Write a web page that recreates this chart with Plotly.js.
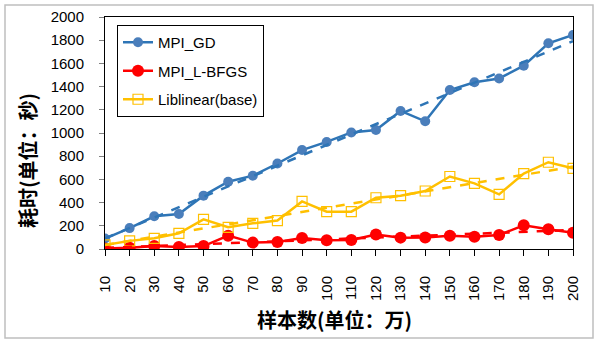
<!DOCTYPE html>
<html>
<head>
<meta charset="utf-8">
<script src="https://cdn.plot.ly/plotly-3.0.1.min.js"></script>
<style>html,body{margin:0;padding:0;background:#fff;}#chart{width:600px;height:344px;}</style>
</head>
<body>
<div id="chart"></div>
<script>
// Sample sizes (unit: 10k)
const samples = [10,20,30,40,50,60,70,80,90,100,110,120,130,140,150,160,170,180,190,200];
const tickLabels = samples.map(String);
// Time in seconds
const mpiGD = [90,180,282,302,460,580,632,737,853,923,1005,1026,1190,1101,1370,1437,1470,1580,1773,1845];
const mpiLBFGS = [5,10,25,18,25,115,55,60,95,75,78,125,98,100,115,105,120,205,170,140];
const liblinear = [35,70,92,135,256,187,221,245,410,322,322,442,460,500,625,566,471,650,748,695];

const seriesNames = ['MPI_GD','MPI_L-BFGS','Liblinear(base)'];
const lineColors = ['#2E75B6','#FF0000','#FFC000'];
const markerFill = ['#4A7EBB','#FF0000','rgba(0,0,0,0)'];

function linfit(xs, ys){
  const n = xs.length;
  let sx=0,sy=0,sxx=0,sxy=0;
  for(let i=0;i<n;i++){sx+=xs[i];sy+=ys[i];sxx+=xs[i]*xs[i];sxy+=xs[i]*ys[i];}
  const b=(n*sxy-sx*sy)/(n*sxx-sx*sx);
  const a=(sy-b*sx)/n;
  return xs.map(x=>a+b*x);
}

const all = [mpiGD, mpiLBFGS, liblinear];
const traces = [];
all.forEach((ys,i)=>{
  traces.push({
    x: samples, y: ys, type:'scatter', mode:'lines+markers', name: seriesNames[i],
    legendgroup: 'g'+i,
    line:{color: lineColors[i], width: 2.5},
    marker: i===2 ? {symbol:'square-open', size:10, color: lineColors[i], line:{width:1.2,color:lineColors[i]}}
                  : {symbol:'circle', size: i===1?12:10, color: markerFill[i], line:{width:0}}
  });
});
all.forEach((ys,i)=>{
  traces.push({
    x: samples, y: linfit(samples, ys), type:'scatter', mode:'lines', showlegend:false,
    legendgroup: 'g'+i, hoverinfo:'skip',
    line:{color: lineColors[i], width: 2.5, dash:'dash'}
  });
});

const L=105, R=27, T=17, B=95, W=600, H=344;
const pw=W-L-R, ph=H-T-B;
const px = v => (v-L)/pw;
const py = v => (H-B-v)/ph;

const layout = {
  width: W, height: H,
  margin:{l:L, r:R, t:T, b:B, pad:0},
  paper_bgcolor:'#fff', plot_bgcolor:'#fff',
  font:{family:'"Liberation Sans", Arial, sans-serif', size:15, color:'#000'},
  showlegend:true,
  legend:{
    x: px(117), y: py(25), xanchor:'left', yanchor:'top',
    bgcolor:'#fff', bordercolor:'#000', borderwidth:1,
    font:{size:15, color:'#000'}, itemwidth:30, tracegroupgap:6, traceorder:'grouped'
  },
  xaxis:{
    range:[10,200], tickvals: samples, ticktext: tickLabels, tickangle:-90,
    showgrid:false, zeroline:false, showline:true, linecolor:'#000', linewidth:1, mirror:true,
    ticks:'outside', ticklen:6, tickcolor:'#000', ticklabelstandoff:14,
    tickfont:{size:15, color:'#000'}
  },
  yaxis:{
    range:[0,2000], dtick:200, tick0:0,
    showgrid:false, zeroline:false, showline:true, linecolor:'#000', linewidth:1, mirror:true,
    ticks:'outside', ticklen:5, tickcolor:'#808080', ticklabelstandoff:12,
    tickfont:{size:15, color:'#000'}
  },
  annotations:[
    {text:'耗时(单位：秒)', xref:'paper', yref:'paper', x: px(27), y: py(161), showarrow:false,
     textangle:-90, xanchor:'center', yanchor:'middle',
     font:{family:'"Noto Sans CJK SC", sans-serif', size:20, color:'#000', weight:'bold'}},
    {text:'样本数(单位：万)', xref:'paper', yref:'paper', x: px(334), y: py(320), showarrow:false,
     xanchor:'center', yanchor:'middle',
     font:{family:'"Noto Sans CJK SC", sans-serif', size:20, color:'#000', weight:'bold'}}
  ],
  shapes:[
    {type:'rect', xref:'paper', yref:'paper', x0:px(5), x1:px(593), y0:py(5), y1:py(338),
     line:{color:'#BFBFBF', width:1.5}, layer:'below'}
  ]
};

Plotly.newPlot('chart', traces, layout, {staticPlot:true, displayModeBar:false});
</script>
</body>
</html>
